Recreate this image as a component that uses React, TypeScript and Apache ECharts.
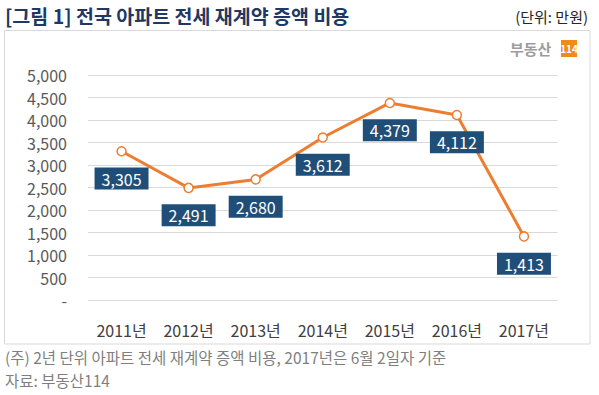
import React, { useEffect, useRef } from "react";
import * as echarts from "echarts";

const categories = ["2011년", "2012년", "2013년", "2014년", "2015년", "2016년", "2017년"];
const values = [3305, 2491, 2680, 3612, 4379, 4112, 1413];
const titleText = "[그림 1] 전국 아파트 전세 재계약 증액 비용";
const unitText = "(단위: 만원)";
const noteText = "(주) 2년 단위 아파트 전세 재계약 증액 비용, 2017년은 6월 2일자 기준";
const sourceText = "자료: 부동산114";

const FONT = "'Noto Sans CJK KR', 'Noto Sans', sans-serif";

export default function App() {
  const ref = useRef<HTMLDivElement>(null);
  useEffect(() => {
    document.body.style.margin = "0";
    const chart = echarts.init(ref.current!, null, { renderer: "svg" });
    chart.setOption({
      animation: false,
      backgroundColor: "#ffffff",
      textStyle: { fontFamily: FONT },
      grid: { left: 88, right: 41.5, top: 75, bottom: 95 },
      xAxis: {
        type: "category",
        data: categories,
        boundaryGap: true,
        axisLine: { show: false },
        axisTick: { show: false },
        axisLabel: { color: "#404040", fontSize: 16, margin: 22, fontFamily: FONT },
      },
      yAxis: {
        type: "value",
        min: 0,
        max: 5000,
        interval: 500,
        axisLine: { show: false },
        axisTick: { show: false },
        splitLine: { lineStyle: { color: "#D9D9D9", width: 1 } },
        axisLabel: {
          color: "#595959",
          fontSize: 16,
          margin: 21,
          fontFamily: FONT,
          formatter: (v: number) => (v === 0 ? "-" : v.toLocaleString("en-US")),
        },
      },
      series: [
        {
          type: "line",
          data: values,
          symbol: "circle",
          symbolSize: 9,
          itemStyle: { color: "#ffffff", borderColor: "#ED7D31", borderWidth: 1.5 },
          lineStyle: { color: "#ED7D31", width: 3 },
          label: {
            show: true,
            position: "bottom",
            distance: 11,
            backgroundColor: "#1F4E79",
            color: "#ffffff",
            fontSize: 16,
            fontFamily: FONT,
            padding: [3, 7, 3, 7],
            formatter: (p: any) => Number(p.value).toLocaleString("en-US"),
          },
        },
      ],
      graphic: [
        {
          type: "text",
          x: 5,
          y: 15,
          style: { text: titleText, fill: "#1F3864", font: `bold 19.5px ${FONT}`, verticalAlign: "middle" },
        },
        {
          type: "text",
          x: 588,
          y: 16,
          style: { text: unitText, fill: "#262626", font: `15px ${FONT}`, align: "right", verticalAlign: "middle" },
        },
        {
          type: "rect",
          shape: { x: 4.5, y: 30.5, width: 585.5, height: 313.5 },
          style: { fill: "none", stroke: "#D9D9D9", lineWidth: 1 },
          z: -1,
        },
        {
          type: "text",
          x: 510,
          y: 48.5,
          style: { text: "부동산", fill: "#9C9C9C", font: `bold 15px ${FONT}`, verticalAlign: "middle" },
        },
        {
          type: "rect",
          shape: { x: 561, y: 40, width: 16, height: 17 },
          style: { fill: "#F08A1C" },
        },
        {
          type: "text",
          x: 569,
          y: 48.5,
          style: { text: "114", fill: "#ffffff", font: `bold 10px ${FONT}`, align: "center", verticalAlign: "middle" },
        },
        {
          type: "text",
          x: 5,
          y: 357,
          style: { text: noteText, fill: "#7F7F7F", font: `15.5px ${FONT}`, lineHeight: 17, verticalAlign: "middle" },
        },
        {
          type: "text",
          x: 5,
          y: 380,
          style: { text: sourceText, fill: "#7F7F7F", font: `15.5px ${FONT}`, lineHeight: 17, verticalAlign: "middle" },
        },
      ],
    });
    return () => chart.dispose();
  }, []);
  return <div ref={ref} style={{ width: 599, height: 395 }} />;
}
